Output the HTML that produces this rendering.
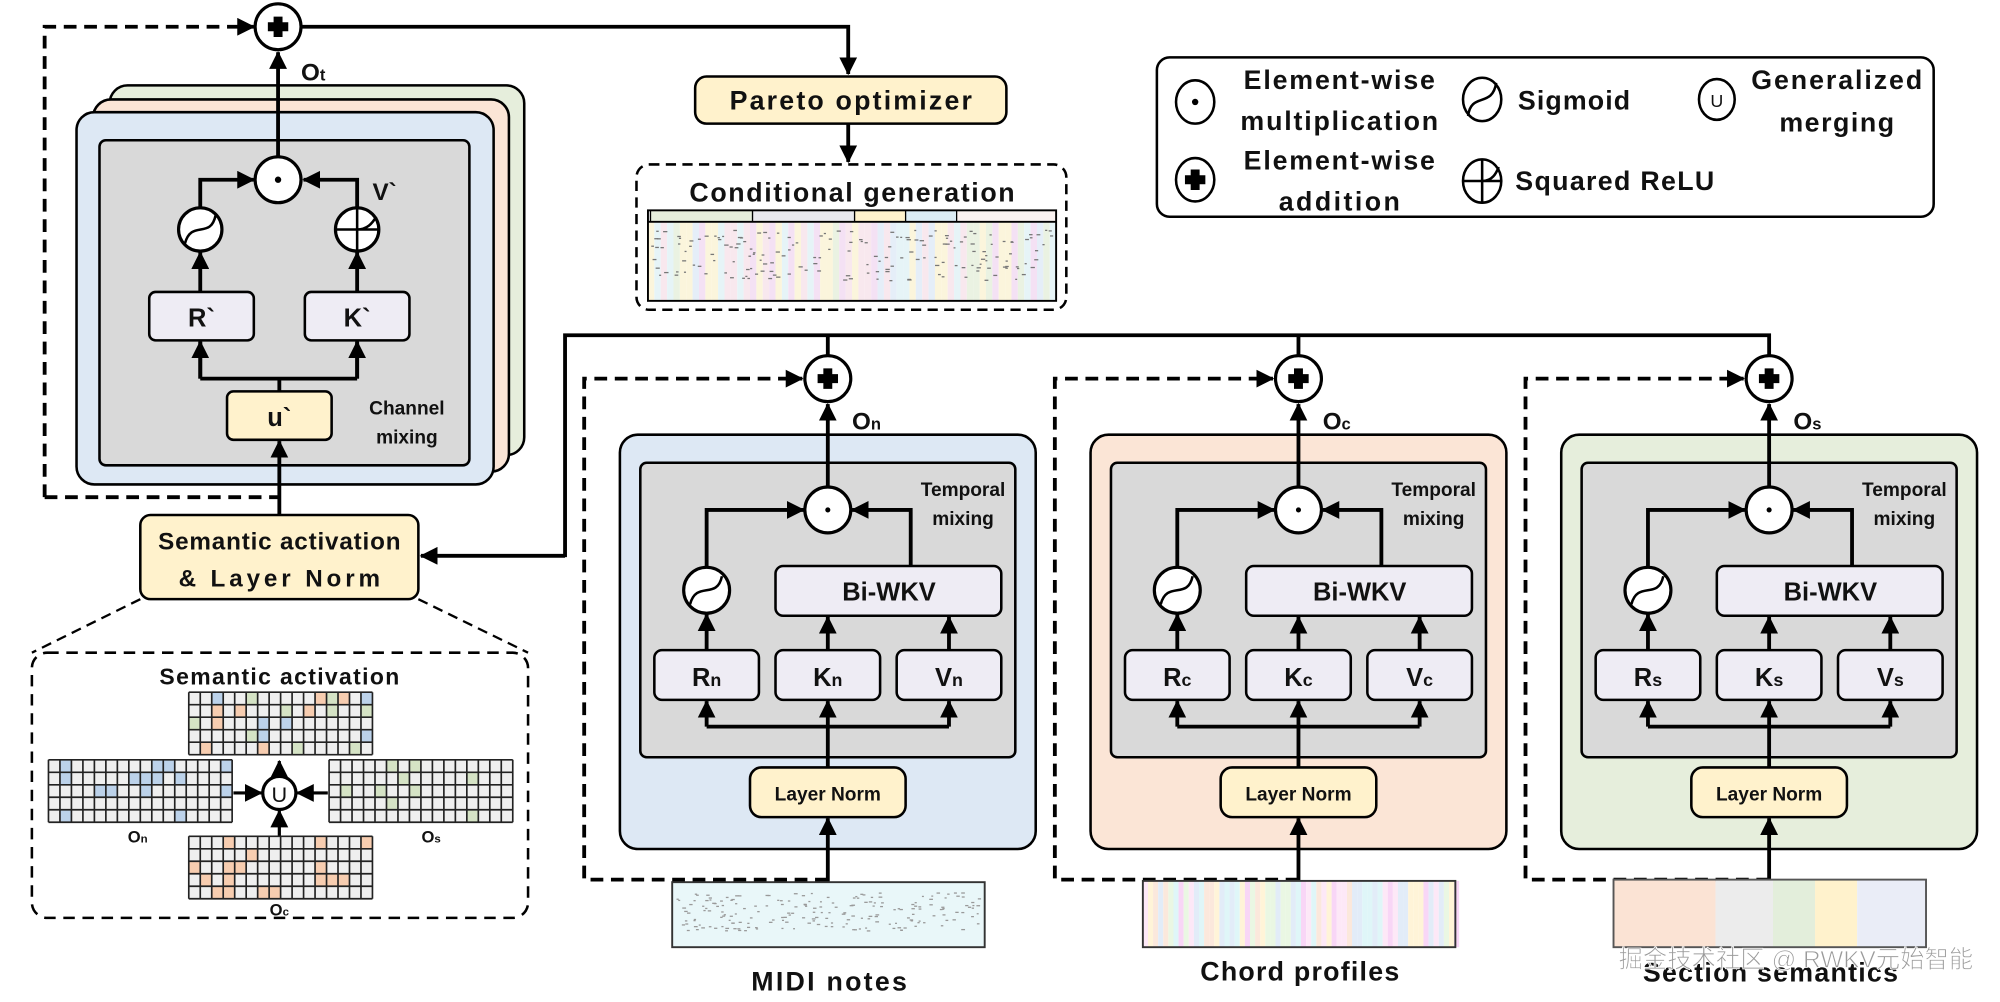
<!DOCTYPE html>
<html><head><meta charset="utf-8"><style>
html,body{margin:0;padding:0;background:#fff;}
svg{display:block;}
text{font-family:"Liberation Sans","Noto Sans CJK SC",sans-serif;font-weight:bold;fill:#111;}
</style></head><body>
<svg id="s" width="2000" height="1002" viewBox="0 0 1568 786" preserveAspectRatio="none" xmlns="http://www.w3.org/2000/svg">
<defs>
<marker id="a" markerUnits="userSpaceOnUse" markerWidth="14" markerHeight="14" refX="13" refY="7" orient="auto"><path d="M0,0 L14,7 L0,14 z" fill="#000"/></marker>
</defs>
<g stroke="#000" stroke-width="3" fill="none" stroke-linecap="butt">

<path d="M35,390 V21 H199" stroke-dasharray="10,6" marker-end="url(#a)"/>
<path d="M237,21 H665 V58" marker-end="url(#a)"/>
<rect x="86" y="67" width="325" height="290" rx="14" fill="#e6eedc" stroke-width="2"/>
<rect x="73" y="78" width="326" height="292" rx="14" fill="#fbe5d6" stroke-width="2"/>
<rect x="60" y="88" width="327" height="292" rx="14" fill="#dde8f4" stroke-width="2"/>
<rect x="78" y="110" width="290" height="255" rx="5" fill="#d9d9d9" stroke-width="2"/>
<path d="M218,124 V41" marker-end="url(#a)"/>
<path d="M157,163 V141 H199" marker-end="url(#a)"/>
<path d="M280,163 V141 H238" marker-end="url(#a)"/>
<path d="M157,229 V198" marker-end="url(#a)"/>
<path d="M280,229 V198" marker-end="url(#a)"/>
<path d="M219,307 V297 M157,297 H280 M157,297 V268 M280,297 V268" />
<path d="M157,297 V268" marker-end="url(#a)"/>
<path d="M280,297 V268" marker-end="url(#a)"/>
<path d="M35,390 H219" stroke-dasharray="10,6"/>
<path d="M219,404 V346" marker-end="url(#a)"/>
<rect x="117" y="229" width="82" height="38" rx="5" fill="#eeecf4" stroke-width="2"/>
<rect x="239" y="229" width="82" height="38" rx="5" fill="#eeecf4" stroke-width="2"/>
<rect x="178" y="307" width="82" height="38" rx="5" fill="#fff2cc" stroke-width="2"/>
<rect x="110" y="404" width="218" height="66" rx="8" fill="#fff2cc" stroke-width="2"/>
<path d="M443,436 H330" marker-end="url(#a)"/>
<path d="M443,437 V263 H1387 V279 M649,263 V279 M1018,263 V279"/>

<path d="M110,470 L25,512 M328,470 L414,512" stroke-width="1.8" stroke-dasharray="8,5"/>
<rect x="25" y="512" width="389" height="208" rx="12" stroke-width="2" stroke-dasharray="9,6"/>
<path d="M219,609 V597" stroke-width="2.5" marker-end="url(#a)"/>
<path d="M183,622 H205" stroke-width="2.5" marker-end="url(#a)"/>
<path d="M257,622 H233" stroke-width="2.5" marker-end="url(#a)"/>
<path d="M219,656 V636" stroke-width="2.5" marker-end="url(#a)"/>
</g>
<g id="cells"></g>
<g stroke="#000" stroke-width="2.5" fill="#fff">
<circle cx="219" cy="622" r="13"/>
</g>
<text x="219" y="629" font-size="17" text-anchor="middle" style="font-weight:normal">U</text>

<g stroke="#000" stroke-width="2.5" fill="#fff">
<circle cx="218" cy="21" r="18"/>
<circle cx="218" cy="141" r="18"/>
<circle cx="157" cy="180" r="17"/>
<circle cx="280" cy="180" r="17"/>
</g>
<path d="M210,21 H226 M218,13 V29" stroke="#000" stroke-width="7"/>
<circle cx="218" cy="141" r="2.5" fill="#000"/>
<path d="M145,191 C150,172 165,188 169,169" stroke="#000" stroke-width="2" fill="none"/>
<path d="M263,180 H297 M280,163 V197 M280,180 C288,180 292,175 295,170" stroke="#000" stroke-width="2" fill="none"/>

<text x="236" y="63" font-size="19">O<tspan font-size="13">t</tspan></text>
<text x="292" y="157" font-size="19">V`</text>
<text x="158" y="256" font-size="20" text-anchor="middle">R`</text>
<text x="280" y="256" font-size="20" text-anchor="middle">K`</text>
<text x="219" y="334" font-size="20" text-anchor="middle">u`</text>
<text x="319" y="325" font-size="15" text-anchor="middle">Channel</text>
<text x="319" y="348" font-size="15" text-anchor="middle">mixing</text>
<text x="219" y="431" font-size="19" text-anchor="middle" textLength="190">Semantic activation</text>
<text x="219" y="460" font-size="19" text-anchor="middle" textLength="158">&amp; Layer Norm</text>
<text x="219" y="537" font-size="18" text-anchor="middle" textLength="188">Semantic activation</text>
<text x="108" y="661" font-size="13" text-anchor="middle">O<tspan font-size="9">n</tspan></text>
<text x="338" y="661" font-size="13" text-anchor="middle">O<tspan font-size="9">s</tspan></text>
<text x="219" y="718" font-size="13" text-anchor="middle">O<tspan font-size="9">c</tspan></text>

<g stroke="#000" stroke-width="3" fill="none">
<rect x="545" y="60" width="244" height="37" rx="9" fill="#fff2cc" stroke-width="2"/>
<path d="M665,97 V127" marker-end="url(#a)"/>
<rect x="499" y="129" width="337" height="114" rx="10" stroke-width="2" stroke-dasharray="8,5"/>
</g>
<g id="cg"></g>
<rect x="508" y="165" width="320" height="71" fill="none" stroke="#000" stroke-width="1.5"/>
<line x1="508" y1="174" x2="828" y2="174" stroke="#000" stroke-width="1.5"/>
<text x="667" y="86" font-size="21" text-anchor="middle" textLength="190">Pareto optimizer</text>
<text x="668" y="158" font-size="21" text-anchor="middle" textLength="255">Conditional generation</text>

<rect x="907" y="45" width="609" height="125" rx="10" fill="#fff" stroke="#000" stroke-width="2"/>
<g stroke="#000" stroke-width="2" fill="#fff">
<ellipse cx="937" cy="80" rx="15" ry="17"/>
<ellipse cx="937" cy="141" rx="15" ry="17"/>
<ellipse cx="1162" cy="78" rx="15" ry="17"/>
<ellipse cx="1162" cy="142" rx="15" ry="17"/>
<ellipse cx="1346" cy="78" rx="14" ry="16"/>
</g>
<circle cx="937" cy="80" r="2.5"/>
<path d="M929,141 H945 M937,133 V149" stroke="#000" stroke-width="7"/>
<path d="M1151,91 C1153,72 1170,85 1173,65" stroke="#000" stroke-width="2" fill="none"/>
<path d="M1147,142 H1177 M1162,125 V159 M1162,142 C1170,142 1173,136 1175,131" stroke="#000" stroke-width="2" fill="none"/>
<text x="1346" y="84" font-size="14" text-anchor="middle" style="font-weight:normal">U</text>
<text x="1050" y="70" font-size="21" text-anchor="middle" textLength="150">Element-wise</text>
<text x="1050" y="102" font-size="21" text-anchor="middle" textLength="155">multiplication</text>
<text x="1050" y="133" font-size="21" text-anchor="middle" textLength="150">Element-wise</text>
<text x="1050" y="165" font-size="21" text-anchor="middle" textLength="95">addition</text>
<text x="1190" y="86" font-size="21" textLength="88">Sigmoid</text>
<text x="1188" y="149" font-size="21" textLength="156">Squared ReLU</text>
<text x="1440" y="70" font-size="21" text-anchor="middle" textLength="134">Generalized</text>
<text x="1440" y="103" font-size="21" text-anchor="middle" textLength="90">merging</text>

<g id="mods"></g>

<g font-size="15" text-anchor="middle">
<text x="755" y="389">Temporal</text><text x="755" y="412">mixing</text>
<text x="1124" y="389">Temporal</text><text x="1124" y="412">mixing</text>
<text x="1493" y="389">Temporal</text><text x="1493" y="412">mixing</text>
</g>
<g font-size="20" text-anchor="middle">
<text x="697" y="471">Bi-WKV</text><text x="1066" y="471">Bi-WKV</text><text x="1435" y="471">Bi-WKV</text>
<text x="554" y="538">R<tspan font-size="14">n</tspan></text><text x="649" y="538">K<tspan font-size="14">n</tspan></text><text x="744" y="538">V<tspan font-size="14">n</tspan></text>
<text x="923" y="538">R<tspan font-size="14">c</tspan></text><text x="1018" y="538">K<tspan font-size="14">c</tspan></text><text x="1113" y="538">V<tspan font-size="14">c</tspan></text>
<text x="1292" y="538">R<tspan font-size="14">s</tspan></text><text x="1387" y="538">K<tspan font-size="14">s</tspan></text><text x="1482" y="538">V<tspan font-size="14">s</tspan></text>
</g>
<g font-size="15" text-anchor="middle">
<text x="649" y="628">Layer Norm</text><text x="1018" y="628">Layer Norm</text><text x="1387" y="628">Layer Norm</text>
</g>
<g font-size="19">
<text x="668" y="337">O<tspan font-size="13">n</tspan></text>
<text x="1037" y="337">O<tspan font-size="13">c</tspan></text>
<text x="1406" y="337">O<tspan font-size="13">s</tspan></text>
</g>

<rect x="527" y="692" width="245" height="51" fill="#e9f7f9" stroke="#333" stroke-width="1.5"/>
<g id="midi"></g>
<g id="chord"></g>
<rect x="896" y="691" width="245" height="52" fill="none" stroke="#333" stroke-width="1.5"/>
<rect x="1265" y="690" width="80" height="53" fill="#fbe3d4"/>
<rect x="1345" y="690" width="45" height="53" fill="#ececec"/>
<rect x="1390" y="690" width="33" height="53" fill="#e3eedb"/>
<rect x="1423" y="690" width="33" height="53" fill="#fff2cc"/>
<rect x="1456" y="690" width="54" height="53" fill="#eaedf7"/>
<rect x="1265" y="690" width="245" height="53" fill="none" stroke="#555" stroke-width="1.5"/>
<text x="650" y="777" font-size="21" text-anchor="middle" textLength="122">MIDI notes</text>
<text x="1019" y="769" font-size="21" text-anchor="middle" textLength="156">Chord profiles</text>
<text x="1388" y="770" font-size="21" text-anchor="middle" textLength="200">Section semantics</text>
<text x="1408" y="759" font-size="19" text-anchor="middle" style="font-weight:normal;fill:#9a9a9a;stroke:#fff;stroke-width:0.6" textLength="278">掘金技术社区 @ RWKV元始智能</text>
</svg>
<script>
var NS="http://www.w3.org/2000/svg";
function el(p,t,a){var e=document.createElementNS(NS,t);for(var k in a)e.setAttribute(k,a[k]);p.appendChild(e);return e;}
var seed=7;function r(){seed=(seed*9301+49297)%233280;return seed/233280;}
var mods=document.getElementById('mods');
var cols=['#dde8f4','#fbe5d6','#e6eedc'];
for(var i=0;i<3;i++){
 var g=el(mods,'g',{transform:'translate('+(i*369)+',0)',stroke:'#000','stroke-width':3,fill:'none'});
 el(g,'path',{d:'M649,690 H458 V297 H629','stroke-dasharray':'10,6','marker-end':'url(#a)'});
 el(g,'rect',{x:486,y:341,width:326,height:325,rx:14,fill:cols[i],'stroke-width':2});
 el(g,'rect',{x:502,y:363,width:294,height:231,rx:5,fill:'#d9d9d9','stroke-width':2});
 el(g,'path',{d:'M649,382 V317','marker-end':'url(#a)'});
 el(g,'path',{d:'M554,445 V400 H630','marker-end':'url(#a)'});
 el(g,'path',{d:'M714,444 V400 H668','marker-end':'url(#a)'});
 el(g,'path',{d:'M554,510 V482','marker-end':'url(#a)'});
 el(g,'path',{d:'M649,510 V484','marker-end':'url(#a)'});
 el(g,'path',{d:'M744,510 V484','marker-end':'url(#a)'});
 el(g,'path',{d:'M649,602 V570 M554,570 H744'});
 el(g,'path',{d:'M554,570 V550','marker-end':'url(#a)'});
 el(g,'path',{d:'M649,570 V550','marker-end':'url(#a)'});
 el(g,'path',{d:'M744,570 V550','marker-end':'url(#a)'});
 el(g,'path',{d:'M649,692 V642','marker-end':'url(#a)'});
 el(g,'rect',{x:608,y:444,width:177,height:39,rx:6,fill:'#eeecf4','stroke-width':2});
 [513,608,703].forEach(function(x){el(g,'rect',{x:x,y:510,width:82,height:39,rx:6,fill:'#eeecf4','stroke-width':2});});
 el(g,'rect',{x:588,y:602,width:122,height:39,rx:9,fill:'#fff2cc','stroke-width':2});
 el(g,'circle',{cx:649,cy:297,r:18,fill:'#fff','stroke-width':2.5});
 el(g,'path',{d:'M641,297 H657 M649,289 V305','stroke-width':7});
 el(g,'circle',{cx:649,cy:400,r:18,fill:'#fff','stroke-width':2.5});
 el(g,'circle',{cx:649,cy:400,r:1.5,fill:'#000','stroke-width':1});
 el(g,'circle',{cx:554,cy:463,r:18,fill:'#fff','stroke-width':2.5});
 el(g,'path',{d:'M541,474 C546,455 562,471 566,452','stroke-width':2});
}
var cells=document.getElementById('cells');
function grid(x,y,c,p){el(cells,'rect',{x:x,y:y,width:144,height:49,fill:'#efefef'});
 for(var rr=0;rr<5;rr++)for(var cc=0;cc<16;cc++){if(r()<p){el(cells,'rect',{x:x+cc*9,y:y+rr*9.8,width:9,height:9.8,fill:c[Math.floor(r()*c.length)]});}}
 var d='';for(var cc=0;cc<=16;cc++)d+='M'+(x+cc*9)+','+y+' V'+(y+49)+' ';
 for(var rr=0;rr<=5;rr++)d+='M'+x+','+(y+rr*9.8)+' H'+(x+144)+' ';
 el(cells,'path',{d:d,stroke:'#222','stroke-width':1.3,fill:'none'});}
grid(148,543,['#bcd2ea','#f7cdb0','#d5e3c5'],0.25);
grid(38,596,['#bcd2ea'],0.13);
grid(258,596,['#d5e3c5'],0.13);
grid(148,656,['#f7cdb0'],0.13);
var cg=document.getElementById('cg');
var past=['#f4e1f4','#e6f4f7','#fbf5dc','#eaf2e2','#f8e8ee','#e5eef8'];
for(var x=508;x<828;x+=5){el(cg,'rect',{x:x,y:174,width:5,height:62,fill:past[Math.floor(r()*past.length)]});}
var tb=[[508,510,'#fff'],[510,590,'#e6eedc'],[590,670,'#e9e9ee'],[670,710,'#fff2cc'],[710,750,'#dcecf4'],[750,828,'#faf2f0']];
tb.forEach(function(t){el(cg,'rect',{x:t[0],y:165,width:t[1]-t[0],height:9,fill:t[2],stroke:'#000','stroke-width':1});});
for(var k=0;k<180;k++){el(cg,'rect',{x:510+r()*316,y:180+r()*40,width:1.5+r()*2,height:1,fill:'#777'});}
var md=document.getElementById('midi');
for(var k=0;k<200;k++){var xx=530+r()*239;el(md,'rect',{x:xx,y:700+r()*30,width:1.5+r()*1.5,height:1,fill:'#999'});}
var ch=document.getElementById('chord');
var cp=['#fde8f7','#dff6f8','#fff4d8','#f8d6f6','#e2ecf8','#fbe8dc','#eaf7e3'];
for(var x=896;x<1141;x+=4){el(ch,'rect',{x:x,y:691,width:4,height:52,fill:cp[Math.floor(r()*cp.length)]});}
</script>
</body></html>
